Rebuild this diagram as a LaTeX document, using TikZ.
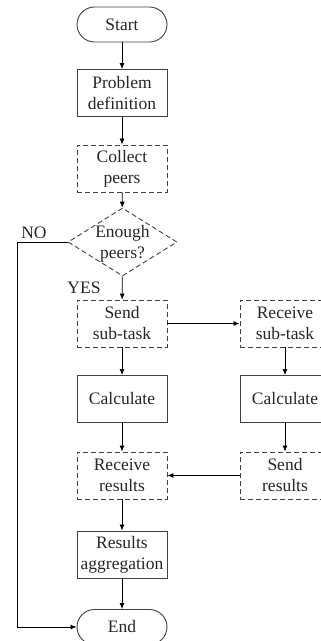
\documentclass[tikz,border=0pt]{standalone}
\usepackage{fontspec}
\setmainfont{Liberation Serif}
\usetikzlibrary{arrows.meta,shapes.geometric}
\begin{document}
\begin{tikzpicture}[x=1pt,y=-1pt,
 every node/.style={font=\fontsize{17.5}{21}\selectfont, text=black!85},
 box/.style={draw=black!75, line width=0.9pt, minimum width=90pt, minimum height=47pt, align=center, inner sep=0pt},
 dbox/.style={box, dash pattern=on 5pt off 3pt},
 term/.style={box, minimum height=35pt, rounded corners=17.5pt},
 arr/.style={draw=black, line width=0.8pt, -{Latex[length=6pt,width=5pt]}},
]
\useasboundingbox (0,0) rectangle (321,641);
\node[term] (start) at (122,24.5) {Start};
\node[box] (prob) at (122,93) {Problem\\definition};
\node[dbox] (coll) at (122,168.5) {Collect\\peers};
\node[draw=black!75, line width=0.9pt, dash pattern=on 5pt off 3pt, diamond, minimum width=109pt, minimum height=68pt, inner sep=0pt] (dia) at (122.5,242) {};
\node[align=center, inner sep=0pt] (diat) at (122.5,244) {Enough\\peers?};
\node[dbox] (send) at (122,323.5) {Send\\sub-task};
\node[box] (calc) at (122,399) {Calculate};
\node[dbox] (rres) at (122,475.5) {Receive\\results};
\node[box] (agg) at (122,554.5) {Results\\aggregation};
\node[term] (end) at (122,627) {End};
\node[dbox] (rsub) at (285,323.5) {Receive\\sub-task};
\node[box] (calc2) at (285,399) {Calculate};
\node[dbox] (sres) at (285,475.5) {Send\\results};
\node[inner sep=0pt] (no) at (34,233) {NO};
\node[inner sep=0pt] (yes) at (84,288) {YES};
\draw[arr] (start) -- (prob);
\draw[arr] (prob) -- (coll);
\draw[arr] (coll) -- (dia);
\draw[arr] (dia) -- (send);
\draw[arr] (send) -- (calc);
\draw[arr] (calc) -- (rres);
\draw[arr] (rres) -- (agg);
\draw[arr] (agg) -- (end);
\draw[arr] (send) -- (rsub);
\draw[arr] (rsub) -- (calc2);
\draw[arr] (calc2) -- (sres);
\draw[arr] (sres) -- (rres);
\draw[arr] (dia.west) -- ++(-50,0) |- (end.west);
\end{tikzpicture}
\end{document}
